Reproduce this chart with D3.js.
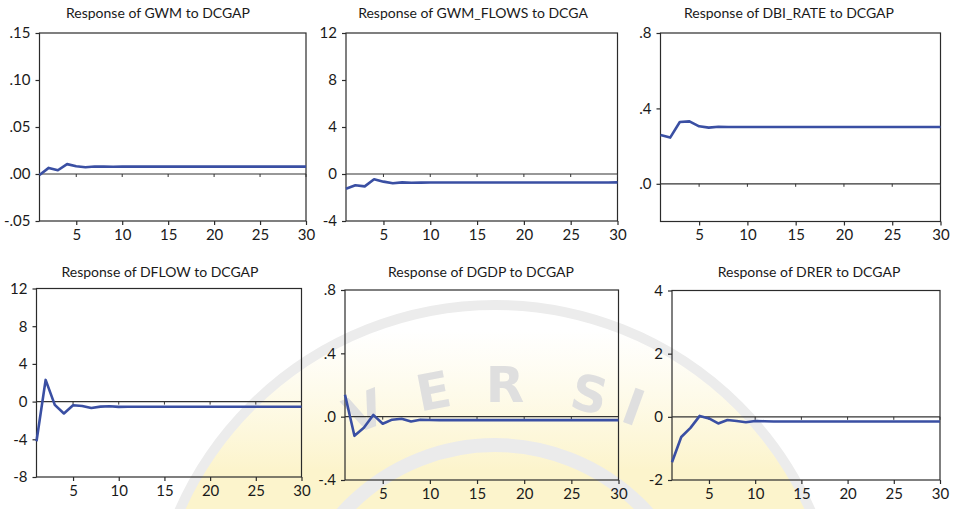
<!DOCTYPE html>
<html>
<head>
<meta charset="utf-8">
<script src="https://cdn.jsdelivr.net/npm/d3@7"></script>
<style>
  body { margin: 0; background: #fff; }
  #my_dataviz { width: 954px; height: 509px; }
</style>
</head>
<body>
<div id="my_dataviz"></div>
<script>
// periods of the impulse responses
var periods = [1,2,3,4,5,6,7,8,9,10,11,12,13,14,15,16,17,18,19,20,21,22,23,24,25,26,27,28,29,30];
var xTicks = [5, 10, 15, 20, 25, 30];

var titles = [
  "Response of GWM to DCGAP",
  "Response of GWM_FLOWS to DCGA",
  "Response of DBI_RATE to DCGAP",
  "Response of DFLOW to DCGAP",
  "Response of DGDP to DCGAP",
  "Response of DRER to DCGAP"
];

// responses
var gwm = [-0.001, 0.0065, 0.004, 0.0105, 0.0082, 0.0072, 0.0079, 0.0078, 0.0077, 0.0078,
  0.0078, 0.0078, 0.0078, 0.0078, 0.0078, 0.0078, 0.0078, 0.0078, 0.0078, 0.0078,
  0.0078, 0.0078, 0.0078, 0.0078, 0.0078, 0.0078, 0.0078, 0.0078, 0.0078, 0.0078];
var gwmFlows = [-1.25, -0.96, -1.05, -0.45, -0.65, -0.79, -0.71, -0.74, -0.73, -0.72,
  -0.72, -0.72, -0.72, -0.72, -0.72, -0.72, -0.72, -0.72, -0.72, -0.72,
  -0.72, -0.72, -0.72, -0.72, -0.72, -0.72, -0.72, -0.72, -0.72, -0.71];
var dbiRate = [0.259, 0.245, 0.328, 0.331, 0.305, 0.298, 0.303, 0.301, 0.301, 0.301,
  0.301, 0.301, 0.301, 0.301, 0.301, 0.301, 0.301, 0.301, 0.301, 0.301,
  0.301, 0.301, 0.301, 0.301, 0.301, 0.301, 0.301, 0.301, 0.301, 0.301];
var dflow = [-4.2, 2.3, -0.35, -1.26, -0.39, -0.46, -0.67, -0.53, -0.49, -0.56,
  -0.55, -0.55, -0.55, -0.55, -0.55, -0.55, -0.55, -0.55, -0.55, -0.55,
  -0.55, -0.55, -0.55, -0.55, -0.55, -0.55, -0.55, -0.55, -0.55, -0.55];
var dgdp = [0.138, -0.121, -0.07, 0.011, -0.045, -0.019, -0.013, -0.03, -0.019, -0.021,
  -0.022, -0.022, -0.022, -0.022, -0.022, -0.022, -0.022, -0.022, -0.022, -0.022,
  -0.022, -0.022, -0.022, -0.022, -0.022, -0.022, -0.022, -0.022, -0.022, -0.022];
var drer = [-1.44, -0.64, -0.35, 0.03, -0.05, -0.21, -0.10, -0.13, -0.17, -0.13,
  -0.14, -0.15, -0.15, -0.15, -0.15, -0.15, -0.15, -0.15, -0.15, -0.15,
  -0.15, -0.15, -0.15, -0.15, -0.15, -0.15, -0.15, -0.15, -0.15, -0.15];

var series = [gwm, gwmFlows, dbiRate, dflow, dgdp, drer];

// y axis ranges and tick labels
var yDomains = [[-0.05, 0.15], [-4, 12], [-0.2, 0.8], [-8, 12], [-0.4, 0.8], [-2, 4]];
var yTicks = [
  [-0.05, 0, 0.05, 0.10, 0.15],
  [-4, 0, 4, 8, 12],
  [0, 0.4, 0.8],
  [-8, -4, 0, 4, 8, 12],
  [-0.4, 0, 0.4, 0.8],
  [-2, 0, 2, 4]
];
var yTickLabels = [
  ["-.05", ".00", ".05", ".10", ".15"],
  ["-4", "0", "4", "8", "12"],
  [".0", ".4", ".8"],
  ["-8", "-4", "0", "4", "8", "12"],
  ["-.4", ".0", ".4", ".8"],
  ["-2", "0", "2", "4"]
];

// frame of each panel on the page (left, top, right, bottom, title centre, title baseline)
var boxes = [
  {l: 39.5, t: 33, r: 306, b: 221, tx: 158, ty: 18},
  {l: 346, t: 33, r: 617.5, b: 221, tx: 473, ty: 18},
  {l: 660.5, t: 33, r: 940.5, b: 221.5, tx: 789, ty: 18},
  {l: 36.5, t: 288.5, r: 301.5, b: 477, tx: 160, ty: 277},
  {l: 345, t: 290, r: 618.5, b: 480, tx: 481, ty: 277},
  {l: 672, t: 290.5, r: 940, b: 480, tx: 809, ty: 277}
];

var lineColor = "#3a4fa3";
var axisColor = "#2b2b2b";

var svg = d3.select("#my_dataviz")
  .append("svg")
    .attr("width", 954)
    .attr("height", 509)
    .style("font-family", "Lato, 'Open Sans', sans-serif");

// faint watermark of the scanned page (yellow only on its lower part)
var grad = svg.append("defs").append("linearGradient")
  .attr("id", "wm-fade")
  .attr("gradientUnits", "userSpaceOnUse")
  .attr("x1", 0).attr("y1", -320)
  .attr("x2", 0).attr("y2", -180);
grad.append("stop").attr("offset", "0%").attr("stop-color", "#fdf7d6").attr("stop-opacity", 0);
grad.append("stop").attr("offset", "100%").attr("stop-color", "#fcf4cc").attr("stop-opacity", 1);

var wm = svg.append("g")
  .attr("transform", "translate(495,650)");
wm.append("circle").attr("r", 345).attr("fill", "url(#wm-fade)");
wm.append("circle").attr("r", 345).attr("fill", "none")
  .attr("stroke", "#ececec").attr("stroke-width", 10);
wm.append("circle").attr("r", 205).attr("fill", "none")
  .attr("stroke", "#ebebeb").attr("stroke-width", 14);

// letters of the watermark along its arc
var wmLetters = ["V", "E", "R", "S", "I"];
var wmAngles = [-22, -11, 0, 13, 20];
svg.append("g")
  .attr("transform", "translate(505,760)")
  .selectAll("text")
  .data(wmLetters)
  .enter().append("text")
    .attr("transform", function(d, k) { return "rotate(" + wmAngles[k] + ") translate(0,-358)"; })
    .attr("text-anchor", "middle")
    .attr("fill", "#dfdfdf")
    .style("font-family", "'DejaVu Sans', sans-serif")
    .style("font-size", "50px")
    .style("font-weight", "bold")
    .text(function(d) { return d; });

boxes.forEach(function(bx, i) {
  var g = svg.append("g");

  var x = d3.scaleLinear()
    .domain([1, 30])
    .range([bx.l, bx.r]);
  var y = d3.scaleLinear()
    .domain(yDomains[i])
    .range([bx.b, bx.t]);

  // title
  g.append("text")
    .attr("x", bx.tx)
    .attr("y", bx.ty)
    .attr("text-anchor", "middle")
    .attr("fill", "#1a1a1a")
    .style("font-size", "14px")
    .text(titles[i]);

  // frame
  g.append("rect")
    .attr("x", bx.l)
    .attr("y", bx.t)
    .attr("width", bx.r - bx.l)
    .attr("height", bx.b - bx.t)
    .attr("fill", "none")
    .attr("stroke", axisColor)
    .attr("stroke-width", 1.2);

  // left axis
  var labels = yTickLabels[i];
  var yAxis = g.append("g")
    .attr("transform", "translate(" + bx.l + ",0)")
    .call(d3.axisLeft(y)
      .tickValues(yTicks[i])
      .tickSize(4)
      .tickPadding(5)
      .tickFormat(function(d, k) { return labels[k]; }));
  yAxis.select(".domain").remove();
  yAxis.selectAll("line").attr("stroke", axisColor).attr("stroke-width", 1.2);
  yAxis.selectAll("text")
    .attr("fill", "#1a1a1a")
    .style("font-size", "15px")
    .style("font-family", "Lato, 'Open Sans', sans-serif");

  // bottom axis
  var xAxis = g.append("g")
    .attr("transform", "translate(0," + bx.b + ")")
    .call(d3.axisBottom(x)
      .tickValues(xTicks)
      .tickSize(4)
      .tickPadding(4));
  xAxis.select(".domain").remove();
  xAxis.selectAll("line").attr("stroke", axisColor).attr("stroke-width", 1.2);
  xAxis.selectAll("text")
    .attr("fill", "#1a1a1a")
    .style("font-size", "15px")
    .style("font-family", "Lato, 'Open Sans', sans-serif");

  // zero line with its small ticks
  g.append("line")
    .attr("x1", bx.l)
    .attr("x2", bx.r)
    .attr("y1", y(0))
    .attr("y2", y(0))
    .attr("stroke", "#333")
    .attr("stroke-width", 1.2);
  g.selectAll(".zt")
    .data(xTicks)
    .enter().append("line")
      .attr("x1", function(d) { return x(d); })
      .attr("x2", function(d) { return x(d); })
      .attr("y1", y(0))
      .attr("y2", y(0) + 3)
      .attr("stroke", "#333")
      .attr("stroke-width", 1);

  // the response line
  g.append("path")
    .datum(series[i])
    .attr("fill", "none")
    .attr("stroke", lineColor)
    .attr("stroke-width", 2.6)
    .attr("stroke-linejoin", "round")
    .attr("d", d3.line()
      .x(function(d, k) { return x(periods[k]); })
      .y(function(d) { return y(d); })
    );
});
</script>
</body>
</html>
